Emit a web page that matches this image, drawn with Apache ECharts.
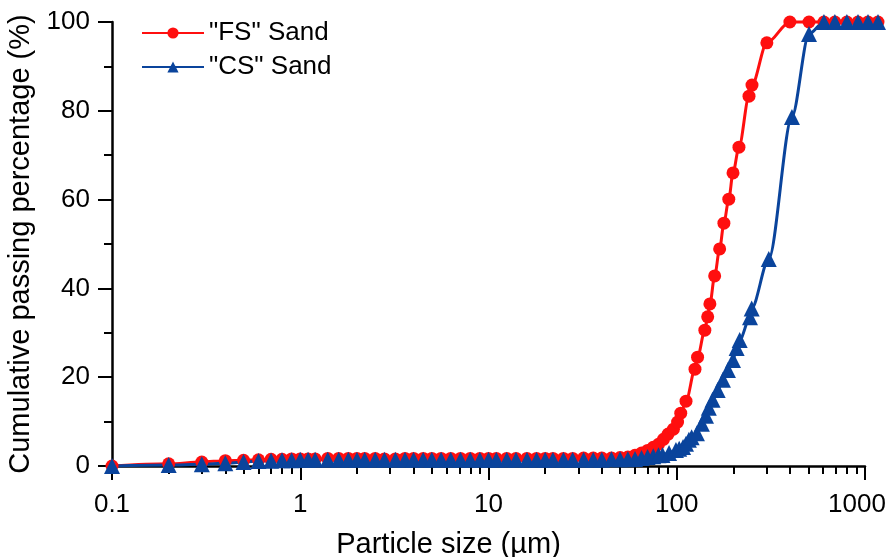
<!DOCTYPE html>
<html>
<head>
<meta charset="utf-8">
<script src="https://cdn.jsdelivr.net/npm/echarts@6/dist/echarts.min.js"></script>
<style>html,body{margin:0;padding:0;background:#fff;}#c{width:889px;height:557px;}</style>
</head>
<body>
<div id="c"></div>
<script>
// Particle sizes (µm) and cumulative passing (%)
const fsSize = [0.1,0.2,0.3,0.4,0.5,0.6,0.7,0.8,0.9,1,1.1,1.2,1.4,1.6,1.8,2,2.2,2.5,2.8,3.2,3.6,4,4.5,5,5.6,6.3,7.1,8,9,10,11,12.5,14,16,18,20,22,25,28,32,36,40,45,50,
  55,60,65,70,75,80,85,90,96,101,105,112,125,129,141,146,150,159,169,178,189,199,214,242,251,301,399,504,605,692,801,918,1037,1172];
const fsPass = [0,0.5,0.9,1.2,1.3,1.4,1.5,1.5,1.6,1.6,1.6,1.6,1.7,1.7,1.7,1.7,1.7,1.7,1.6,1.6,1.7,1.7,1.7,1.7,1.7,1.7,1.7,1.7,1.7,1.7,1.7,1.7,1.7,1.7,1.7,1.7,1.7,1.7,1.7,1.8,1.8,1.8,1.8,1.9,
  2.0,2.4,2.9,3.5,4.2,4.9,6.0,7.2,8.3,9.9,11.9,14.6,21.8,24.5,30.6,33.6,36.5,42.8,48.9,54.7,60.1,66.0,71.8,83.3,85.8,95.3,100,100,100,100,100,100,100,100];
const csSize = [0.1,0.2,0.3,0.4,0.5,0.6,0.7,0.8,0.9,1,1.1,1.2,1.4,1.6,1.8,2,2.2,2.5,2.8,3.2,3.6,4,4.5,5,5.6,6.3,7.1,8,9,10,11,12.5,14,16,18,20,22,25,28,32,36,40,45,50,
  55,60,65,70,75,80,84,91,99,103,108,112,116,120,128,136,143,148,155,165,176,187,199,208,216,245,250,308,409,504,605,692,801,918,1037,1172];
const csPass = [0,0.2,0.4,0.6,0.9,1.1,1.2,1.3,1.3,1.4,1.4,1.4,1.4,1.4,1.4,1.4,1.4,1.4,1.4,1.4,1.4,1.4,1.4,1.4,1.4,1.4,1.4,1.4,1.4,1.4,1.4,1.4,1.4,1.4,1.4,1.4,1.4,1.4,1.4,1.4,1.4,1.4,1.5,1.5,
  1.5,1.6,1.8,2.0,2.2,2.4,2.5,2.9,3.6,3.9,4.3,5.0,5.9,6.5,7.4,9.5,11.3,13.1,14.9,17.1,19.4,21.6,23.9,26.6,28.4,33.5,35.5,46.6,78.6,97.3,100,100,100,100,100,100];
const seriesNames = ['"FS" Sand', '"CS" Sand'];
const xTitle = 'Particle size (µm)';
const yTitle = 'Cumulative passing percentage (%)';

const pairs = (xs, ys) => xs.map((x, i) => [x, ys[i]]);
const font = 'Liberation Sans, Arial, sans-serif';
const chart = echarts.init(document.getElementById('c'), null, {renderer: 'canvas'});
chart.setOption({
  animation: false,
  backgroundColor: '#fff',
  grid: {left: 112, right: 24, top: 22, bottom: 91, containLabel: false, outerBoundsMode: 'none'},
  legend: {
    orient: 'vertical', left: 136, top: 15, itemWidth: 62, itemHeight: 14, itemGap: 8,
    textStyle: {fontSize: 26, color: '#000', fontFamily: font},
    data: seriesNames
  },
  xAxis: {
    type: 'log', logBase: 10, min: 0.1, max: 1000,
    name: xTitle, nameLocation: 'middle', nameGap: 64,
    nameTextStyle: {fontSize: 29, color: '#000', fontFamily: font, padding: [0, 80, 0, 0]},
    axisLine: {lineStyle: {color: '#000', width: 2.5}},
    axisTick: {show: true, inside: false, length: 14, lineStyle: {color: '#000', width: 2}},
    minorTick: {show: true, splitNumber: 9, length: 8, lineStyle: {color: '#000', width: 2}},
    axisLabel: {fontSize: 26, color: '#000', fontFamily: font, margin: 26,
      formatter: v => (v >= 1000 ? '{last|' + v + '}' : String(v)),
      rich: {last: {fontSize: 26, color: '#000', fontFamily: font, padding: [0, 16, 0, 0]}}},
    splitLine: {show: false}, minorSplitLine: {show: false}
  },
  yAxis: {
    type: 'value', min: 0, max: 100, interval: 20,
    name: yTitle, nameLocation: 'middle', nameGap: 64,
    nameTextStyle: {fontSize: 29, color: '#000', fontFamily: font},
    axisLine: {show: true, lineStyle: {color: '#000', width: 2.5}},
    axisTick: {show: true, inside: false, length: 14, lineStyle: {color: '#000', width: 2}},
    minorTick: {show: true, splitNumber: 2, length: 8, lineStyle: {color: '#000', width: 2}},
    axisLabel: {fontSize: 26, color: '#000', fontFamily: font, margin: 22},
    splitLine: {show: false}
  },
  series: [
    {
      name: seriesNames[0], type: 'line', data: pairs(fsSize, fsPass), clip: false,
      smooth: 0.3, smoothMonotone: 'x',
      symbol: 'circle', symbolSize: 13,
      itemStyle: {color: '#FF0F0F'}, lineStyle: {color: '#FF0F0F', width: 3}
    },
    {
      name: seriesNames[1], type: 'line', data: pairs(csSize, csPass), clip: false,
      smooth: 0.3, smoothMonotone: 'x',
      symbol: 'triangle', symbolSize: 16,
      itemStyle: {color: '#0A449C'}, lineStyle: {color: '#0A449C', width: 3}
    }
  ]
});
</script>
</body>
</html>
